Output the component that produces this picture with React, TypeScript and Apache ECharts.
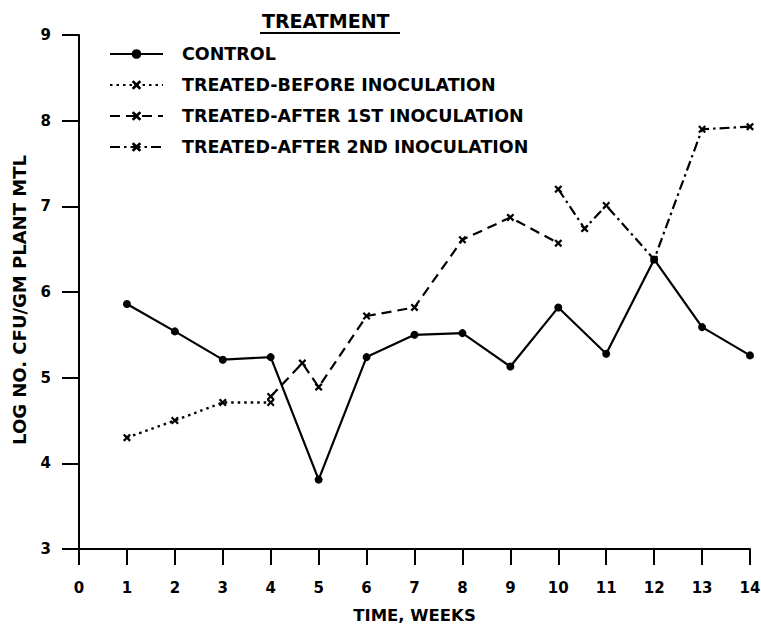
import React, { useEffect, useRef } from "react";
import * as echarts from "echarts";

// ---- data ----
const xTicks = [0, 14];
const yRange = [3, 9];
const controlWeeks = [1, 2, 3, 4, 5, 6, 7, 8, 9, 10, 11, 12, 13, 14];
const controlVals = [5.86, 5.54, 5.21, 5.24, 3.81, 5.24, 5.5, 5.52, 5.13, 5.82, 5.28, 6.38, 5.59, 5.26];
const beforeWeeks = [1, 2, 3, 4];
const beforeVals = [4.3, 4.5, 4.71, 4.71];
const after1Weeks = [4, 4.66, 5, 6, 7, 8, 9, 10];
const after1Vals = [4.78, 5.17, 4.89, 5.72, 5.82, 6.61, 6.87, 6.57];
const after2Weeks = [10, 10.55, 11, 12, 13, 14];
const after2Vals = [7.2, 6.74, 7.01, 6.38, 7.9, 7.93];
const seriesNames = [
  "CONTROL",
  "TREATED-BEFORE INOCULATION",
  "TREATED-AFTER 1ST INOCULATION",
  "TREATED-AFTER 2ND INOCULATION",
];

const pair = (xs: number[], ys: number[]) => xs.map((x, i) => [x, ys[i]]);

const FONT = "DejaVu Sans";
const XMARK = "path://M2,0L5,3L8,0L10,2L7,5L10,8L8,10L5,7L2,10L0,8L3,5L0,2Z";

export default function App() {
  const ref = useRef<HTMLDivElement>(null);
  useEffect(() => {
    if (!ref.current) return;
    const chart = echarts.init(ref.current, null, { renderer: "svg" });
    const common = {
      type: "line",
      color: "#000",
      itemStyle: { color: "#000" },
      showSymbol: true,
    };
    chart.setOption({
      animation: false,
      backgroundColor: "#fff",
      title: {
        text: "TREATMENT",
        left: 262,
        top: 11,
        padding: 0,
        textStyle: { fontFamily: FONT, fontWeight: "bold", fontSize: 19, color: "#000" },
      },
      graphic: [
        {
          type: "line",
          shape: { x1: 260, y1: 33, x2: 400, y2: 33 },
          style: { stroke: "#000", lineWidth: 2 },
        },
      ],
      legend: {
        orient: "vertical",
        left: 109,
        top: 45,
        padding: 0,
        itemWidth: 53,
        itemHeight: 12,
        itemGap: 13,
        data: seriesNames,
        textStyle: {
          fontFamily: FONT,
          fontWeight: "bold",
          fontSize: 17.5,
          lineHeight: 18,
          color: "#000",
          padding: [0, 0, 0, 14],
        },
      },
      grid: { left: 79, right: 11, top: 35, bottom: 78, outerBoundsMode: "none", containLabel: false },
      xAxis: {
        type: "value",
        min: xTicks[0],
        max: xTicks[1],
        interval: 1,
        name: "TIME, WEEKS",
        nameLocation: "middle",
        nameGap: 58,
        nameTextStyle: { fontFamily: FONT, fontWeight: "bold", fontSize: 16.5, lineHeight: 17, color: "#000" },
        axisLine: { lineStyle: { color: "#000", width: 2 } },
        axisTick: { length: 16, lineStyle: { color: "#000", width: 2 } },
        axisLabel: {
          margin: 31,
          fontFamily: FONT,
          fontWeight: "bold",
          fontSize: 15,
          color: "#000",
          showMinLabel: true,
          showMaxLabel: true,
        },
        splitLine: { show: false },
      },
      yAxis: {
        type: "value",
        min: yRange[0],
        max: yRange[1],
        interval: 1,
        name: "LOG NO. CFU/GM PLANT MTL",
        nameLocation: "middle",
        nameGap: 51,
        nameTextStyle: {
          fontFamily: FONT,
          fontWeight: "bold",
          fontSize: 18,
          color: "#000",
          padding: [0, 16, 0, 0],
        },
        axisLine: { show: true, lineStyle: { color: "#000", width: 2 } },
        axisTick: { show: true, length: 17, lineStyle: { color: "#000", width: 2 } },
        axisLabel: { margin: 28, fontFamily: FONT, fontWeight: "bold", fontSize: 15, color: "#000" },
        splitLine: { show: false },
      },
      series: [
        {
          ...common,
          name: seriesNames[0],
          data: pair(controlWeeks, controlVals),
          symbol: "circle",
          symbolSize: 8,
          lineStyle: { color: "#000", width: 2.2, type: "solid" },
        },
        {
          ...common,
          name: seriesNames[1],
          data: pair(beforeWeeks, beforeVals),
          symbol: XMARK,
          symbolSize: 8,
          lineStyle: { color: "#000", width: 2.4, type: [2.5, 4] },
        },
        {
          ...common,
          name: seriesNames[2],
          data: pair(after1Weeks, after1Vals),
          symbol: XMARK,
          symbolSize: 8,
          lineStyle: { color: "#000", width: 2.2, type: [10, 6] },
        },
        {
          ...common,
          name: seriesNames[3],
          data: pair(after2Weeks, after2Vals),
          symbol: XMARK,
          symbolSize: 8,
          lineStyle: { color: "#000", width: 2.2, type: [10, 4, 2.5, 4] },
        },
      ],
    });
    return () => chart.dispose();
  }, []);
  return (
    <div
      ref={ref}
      style={{ position: "absolute", left: 0, top: 0, width: 761, height: 627, background: "#fff" }}
    />
  );
}
